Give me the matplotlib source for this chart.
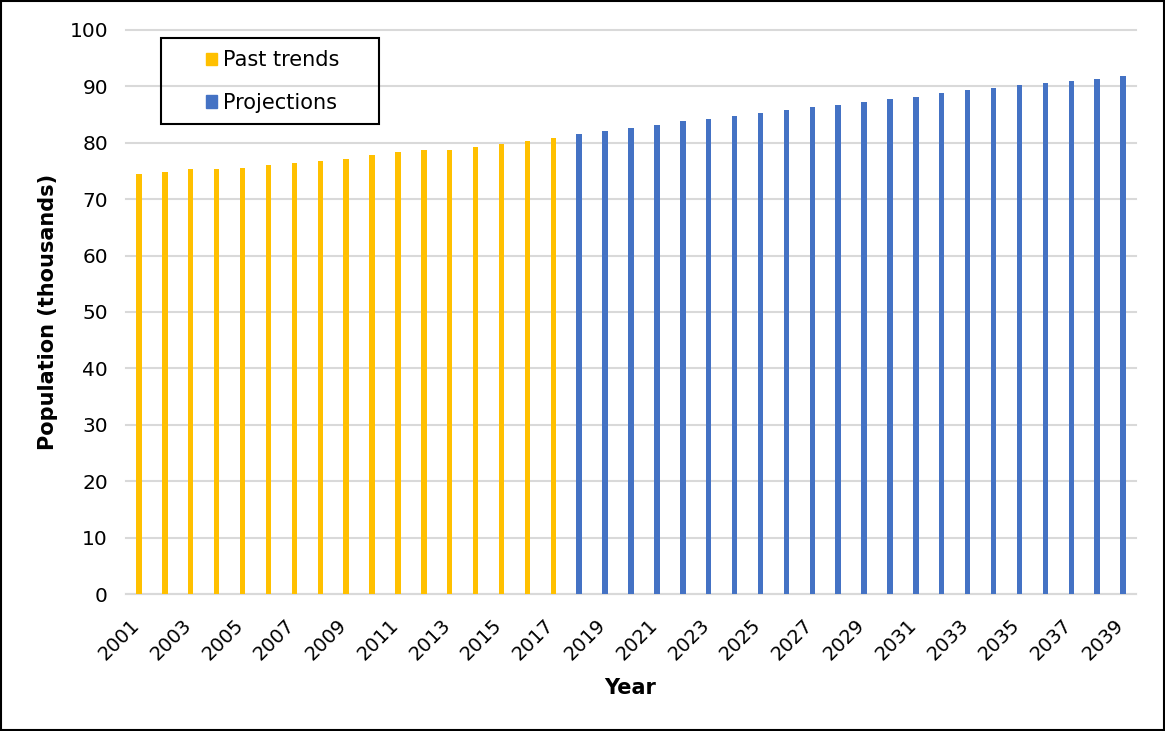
import matplotlib
matplotlib.use("Agg")
import matplotlib.pyplot as plt
from matplotlib.patches import Patch, Rectangle
from matplotlib.transforms import ScaledTranslation

past_years = list(range(2001, 2018))
past_values = [74.4, 74.8, 75.3, 75.4, 75.5, 76.1, 76.5, 76.8, 77.1, 77.8,
               78.3, 78.7, 78.8, 79.3, 79.8, 80.4, 80.9]
proj_years = list(range(2018, 2040))
proj_values = [81.5, 82.1, 82.6, 83.2, 83.8, 84.2, 84.7, 85.3, 85.8, 86.3,
               86.7, 87.2, 87.7, 88.2, 88.8, 89.3, 89.7, 90.2, 90.6, 91.0,
               91.4, 91.9]
tick_years = list(range(2001, 2040, 2))

plt.rcParams['font.family'] = ['DejaVu Sans']

W, H = 1165, 731
fig = plt.figure(figsize=(W / 100, H / 100), dpi=100)
ax = fig.add_axes([126 / W, 1 - 594 / H, 1010 / W, 564 / H])

all_years = past_years + proj_years
pos = {y: i for i, y in enumerate(all_years)}
w = 0.21
ax.bar([pos[y] for y in past_years], past_values, width=w, color='#FFC000', zorder=3)
ax.bar([pos[y] for y in proj_years], proj_values, width=w, color='#4472C4', zorder=3)

ax.set_xlim(-0.5, len(all_years) - 0.5)
ax.set_ylim(0, 100)
ax.set_yticks(range(0, 101, 10))
ax.set_xticks([pos[y] for y in tick_years])
ax.set_xticklabels([str(y) for y in tick_years], rotation=45, ha='right',
                   rotation_mode='anchor', fontsize=14)
ax.tick_params(axis='y', length=0, labelsize=14.5, pad=13)
ax.tick_params(axis='x', length=0, pad=8)
off = ScaledTranslation(-0.09, -0.10, fig.dpi_scale_trans)
for lbl in ax.get_xticklabels():
    lbl.set_transform(lbl.get_transform() + off)

ax.grid(axis='y', color='#d9d9d9', linewidth=1.5, zorder=0)
for gl in ax.get_ygridlines():
    gl.set_clip_on(False)
for s in ['top', 'right', 'left']:
    ax.spines[s].set_visible(False)
ax.spines['bottom'].set_color('#d9d9d9')
ax.spines['bottom'].set_linewidth(1.5)
ax.spines['bottom'].set_zorder(1)

ax.set_xlabel('Year', fontsize=15, fontweight='bold')
ax.xaxis.set_label_coords(504 / 1010, -84 / 564)
ax.set_ylabel('Population (thousands)', fontsize=15, fontweight='bold')
ax.yaxis.set_label_coords(-78 / 1010, 0.5)
ax.yaxis.label.set_va('center')

# legend frame
fig.patches.append(Rectangle((161 / W, 1 - 124 / H), 218 / W, 86 / H,
                             transform=fig.transFigure, fill=False,
                             edgecolor='black', linewidth=1.5, zorder=6))
handles = [Patch(color='#FFC000', label='Past trends'),
           Patch(color='#4472C4', label='Projections')]
leg = fig.legend(handles=handles, loc='upper left',
                 bbox_to_anchor=(206 / W, 1 - 50 / H),
                 fontsize=15, frameon=False,
                 handlelength=0.52, handleheight=0.52, handletextpad=0.3,
                 borderpad=0, labelspacing=1.1, borderaxespad=0)

fig.patches.append(Rectangle((0.001, 0.001), 0.998, 0.998, transform=fig.transFigure,
                             fill=False, edgecolor='black', linewidth=1.5))

fig.savefig('out.png', dpi=100)
